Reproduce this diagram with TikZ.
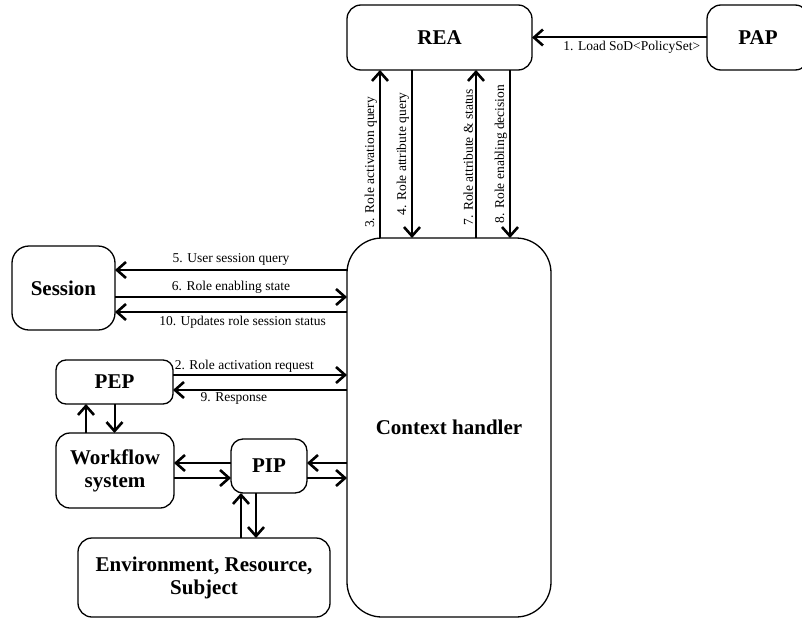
\documentclass[tikz,border=0pt]{standalone}
\usepackage{fontspec}
\setmainfont{Liberation Serif}
\usetikzlibrary{arrows.meta}
\begin{document}
\begin{tikzpicture}[x=1pt,y=-1pt,
  box/.style={draw, line width=1.3pt, rounded corners=14pt, inner sep=0pt, outer sep=0pt,
    align=center, font=\fontsize{21}{23}\selectfont\bfseries},
  arr/.style={line width=2pt, -{Straight Barb[length=9pt,width=16pt,line width=2.6pt]}},
  lbl/.style={font=\fontsize{13.5}{15}\selectfont, inner sep=2pt}]
\useasboundingbox (0,0) rectangle (802,618);
\clip (0,0) rectangle (802,618);

% components
\node[box, minimum width=185pt, minimum height=65pt] (rea) at (439.5,37.5) {REA};
\node[box, minimum width=102pt, minimum height=65pt] (pap) at (758,37.5) {PAP};
\node[box, rounded corners=35pt, minimum width=204pt, minimum height=379pt] (ctx) at (449,427.5) {Context handler};
\node[box, rounded corners=17pt, minimum width=103pt, minimum height=84pt] (ses) at (63.5,288) {Session};
\node[box, rounded corners=10pt, minimum width=117pt, minimum height=44pt] (pep) at (114.5,382) {PEP};
\node[box, minimum width=118pt, minimum height=75pt] (wf) at (115,470.5) {Workflow\\system};
\node[box, rounded corners=12pt, minimum width=76pt, minimum height=54pt] (pip) at (269,466) {PIP};
\node[box, minimum width=252pt, minimum height=79pt] (env) at (204,577.5) {Environment, Resource,\\Subject};

% PAP to REA
\draw[arr] (pap.west) -- node[lbl, below, pos=0.43, yshift=-1pt] {1. Load SoD<PolicySet>} (rea.east);

% REA <-> context handler
\draw[arr] ([xshift=33pt]ctx.north west) -- node[lbl, rotate=90, anchor=south, pos=0.45] {3. Role activation query} ([xshift=33pt]rea.south west);
\draw[arr] ([xshift=65pt]rea.south west) -- node[lbl, rotate=90, anchor=south, midway] {4. Role attribute query} ([xshift=65pt]ctx.north west);
\draw[arr] ([xshift=129pt]ctx.north west) -- node[lbl, rotate=90, anchor=south, pos=0.48] {7. Role attribute \& status} ([xshift=129pt]rea.south west);
\draw[arr] ([xshift=163pt]rea.south west) -- node[lbl, rotate=90, anchor=south, midway] {8. Role enabling decision} ([xshift=163pt]ctx.north west);

% Session <-> context handler
\draw[arr] ([yshift=18pt]ses.east -| ctx.west) -- node[lbl, above, midway, yshift=2pt] {5. User session query} ([yshift=18pt]ses.east);
\draw[arr] ([yshift=-9pt]ses.east) -- node[lbl, above, midway, yshift=1pt] {6. Role enabling state} ([yshift=-9pt]ses.east -| ctx.west);
\draw[arr] ([yshift=-24pt]ses.east -| ctx.west) -- node[lbl, below, pos=0.45, yshift=-1pt] {10. Updates role session status} ([yshift=-24pt]ses.east);

% PEP <-> context handler
\draw[arr] ([yshift=7pt]pep.east) -- node[lbl, above, pos=0.41] {2. Role activation request} ([yshift=7pt]pep.east -| ctx.west);
\draw[arr] ([yshift=-8pt]pep.east -| ctx.west) -- node[lbl, below, pos=0.65] {9. Response} ([yshift=-8pt]pep.east);

% PEP <-> workflow system
\draw[arr] ([xshift=-29pt]wf.north) -- ([xshift=-29pt]wf.north |- pep.south);
\draw[arr] (pep.south) -- (pep.south |- wf.north);

% workflow system <-> PIP
\draw[arr] ([yshift=3pt]pip.west) -- ([yshift=3pt]pip.west -| wf.east);
\draw[arr] ([yshift=-7.5pt]wf.east) -- ([yshift=-7.5pt]wf.east -| pip.west);

% PIP <-> context handler
\draw[arr] ([yshift=3pt]pip.east -| ctx.west) -- ([yshift=3pt]pip.east);
\draw[arr] ([yshift=-12pt]pip.east) -- ([yshift=-12pt]pip.east -| ctx.west);

% PIP <-> environment, resource, subject
\draw[arr] ([xshift=-28pt]pip.south |- env.north) -- ([xshift=-28pt]pip.south);
\draw[arr] ([xshift=-13pt]pip.south) -- ([xshift=-13pt]pip.south |- env.north);
\end{tikzpicture}
\end{document}
